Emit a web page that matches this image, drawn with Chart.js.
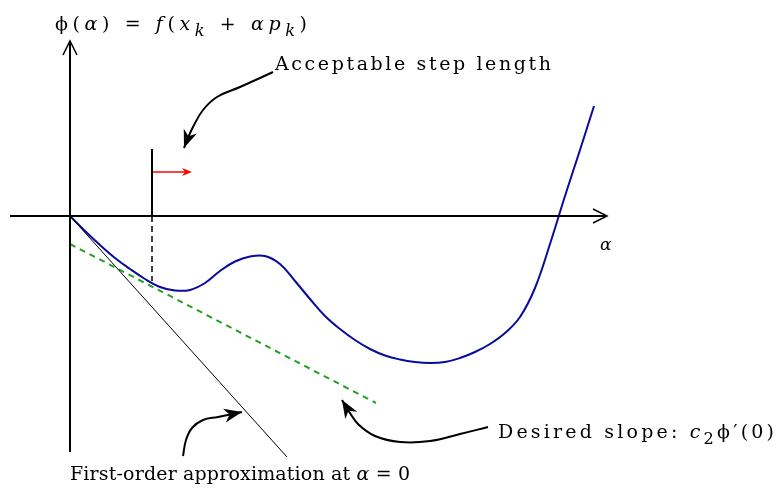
<!DOCTYPE html>
<html>
<head>
<meta charset="utf-8">
<script src="https://cdn.jsdelivr.net/npm/chart.js@4.4.0/dist/chart.umd.min.js"></script>
<style>
  body { margin: 0; background: #fff; }
  #wrap { width: 778px; height: 492px; }
</style>
</head>
<body>
<div id="wrap"><canvas id="myChart1"></canvas></div>
<script>
// phi(alpha) curve
var alpha = [0, 0.3, 0.6, 0.9, 1.2, 1.5, 1.8, 2.1, 2.4, 2.7, 3.0, 3.3, 3.6, 3.9, 4.2, 4.5, 4.8, 5.1, 5.4, 5.7, 6.0, 6.3, 6.6, 6.9, 7.2, 7.5, 7.8, 8.1, 8.4, 8.7, 9.0, 9.3, 9.6, 9.9, 10.2, 10.48];
var phi   = [0, -0.3, -0.58, -0.84, -1.06, -1.26, -1.42, -1.49, -1.48, -1.34, -1.1, -0.91, -0.81, -0.8, -0.96, -1.3, -1.66, -2.0, -2.26, -2.48, -2.66, -2.79, -2.87, -2.92, -2.94, -2.92, -2.84, -2.72, -2.56, -2.34, -2.02, -1.44, -0.56, 0.4, 1.32, 2.2];

// first-order approximation (slope phi'(0)) and desired slope c2*phi'(0)
var tangentX = [0, 4.34];
var tangentY = [0, -4.82];
var slopeX = [0, 6.12];
var slopeY = [-0.56, -3.74];

// acceptable step
var stepAlpha = 1.64;
var stepTop = 1.34;
var stepBottom = -1.3;
var redArrowY = 0.88;
var redArrowEnd = 2.44;

// axes
var xAxisRange = [-1.2, 10.74];
var yAxisRange = [-4.72, 3.5];

// annotation pointer curves
var acceptX = [4.06, 3.8, 3.4, 2.94, 2.66, 2.46, 2.34, 2.28];
var acceptY = [2.88, 2.76, 2.58, 2.38, 2.12, 1.78, 1.52, 1.36];
var desiredX = [8.36, 7.8, 7.2, 6.6, 6.1, 5.76, 5.56, 5.44];
var desiredY = [-4.22, -4.36, -4.5, -4.52, -4.4, -4.16, -3.88, -3.68];
var firstX = [2.26, 2.32, 2.44, 2.66, 2.96, 3.44];
var firstY = [-4.8, -4.48, -4.24, -4.08, -4.02, -3.92];

function pts(xs, ys) {
    var out = [];
    for (var i = 0; i < xs.length; i++) out.push({ x: xs[i], y: ys[i] });
    return out;
}

function line(data, color, width, extra) {
    var ds = {
        data: data,
        showLine: true,
        borderColor: color,
        backgroundColor: color,
        borderWidth: width,
        pointRadius: 0,
        fill: false,
        tension: 0
    };
    for (var k in extra) ds[k] = extra[k];
    return ds;
}

var SERIF = '"DejaVu Serif", "Liberation Serif", serif';

// draw text made of segments, stretched to a width
function richText(ctx, segs, x, y, size, targetW) {
    var n = 0, w = 0;
    segs.forEach(function (s) {
        var fs = s.sub ? size * 0.85 : size;
        ctx.font = (s.it ? 'italic ' : '') + fs + 'px ' + SERIF;
        s.w = ctx.measureText(s.t).width;
        w += s.w;
        n += s.t.length;
    });
    var sp = targetW ? (targetW - w) / (n - 1) : 0;
    var cx = x;
    segs.forEach(function (s) {
        var fs = s.sub ? size * 0.85 : size;
        ctx.font = (s.it ? 'italic ' : '') + fs + 'px ' + SERIF;
        for (var i = 0; i < s.t.length; i++) {
            var ch = s.t[i];
            ctx.fillText(ch, cx, y + (s.sub ? size * 0.3 : 0));
            cx += ctx.measureText(ch).width + sp;
        }
    });
}

function filledHead(ctx, x0, y0, x1, y1, len, half) {
    var a = Math.atan2(y1 - y0, x1 - x0);
    ctx.beginPath();
    ctx.moveTo(x1, y1);
    ctx.lineTo(x1 - len * Math.cos(a) + half * Math.sin(a), y1 - len * Math.sin(a) - half * Math.cos(a));
    ctx.lineTo(x1 - len * 0.7 * Math.cos(a), y1 - len * 0.7 * Math.sin(a));
    ctx.lineTo(x1 - len * Math.cos(a) - half * Math.sin(a), y1 - len * Math.sin(a) + half * Math.cos(a));
    ctx.closePath();
    ctx.fill();
}

function openHead(ctx, x, y, dx, dy) {
    // open TeX-like arrow tip pointing along (dx, dy)
    var px = -dy, py = dx;
    ctx.beginPath();
    ctx.moveTo(x - 14 * dx + 7 * px, y - 14 * dy + 7 * py);
    ctx.quadraticCurveTo(x - 4 * dx + 2 * px, y - 4 * dy + 2 * py, x, y);
    ctx.quadraticCurveTo(x - 4 * dx - 2 * px, y - 4 * dy - 2 * py, x - 14 * dx - 7 * px, y - 14 * dy - 7 * py);
    ctx.stroke();
}

var decor = {
    id: 'decor',
    afterDatasetsDraw: function (chart) {
        var ctx = chart.ctx, sx = chart.scales.x, sy = chart.scales.y;
        function P(x, y) { return [sx.getPixelForValue(x), sy.getPixelForValue(y)]; }
        ctx.save();
        ctx.fillStyle = '#000';
        ctx.strokeStyle = '#000';
        ctx.lineWidth = 1.5;

        // axis arrow tips
        var xt = P(xAxisRange[1], 0);
        openHead(ctx, xt[0], xt[1], 1, 0);
        var yt = P(0, yAxisRange[1]);
        openHead(ctx, yt[0], yt[1], 0, -1);

        // red arrow tip
        var r0 = P(stepAlpha, redArrowY), r1 = P(redArrowEnd, redArrowY);
        ctx.fillStyle = '#ff0000';
        filledHead(ctx, r0[0], r0[1], r1[0], r1[1], 10, 4);

        // pointer tips
        ctx.fillStyle = '#000';
        [[acceptX, acceptY], [desiredX, desiredY], [firstX, firstY]].forEach(function (c) {
            var n = c[0].length;
            var a = P(c[0][n - 2], c[1][n - 2]), b = P(c[0][n - 1], c[1][n - 1]);
            filledHead(ctx, a[0], a[1], b[0], b[1], 18, 7);
        });

        // labels
        ctx.textBaseline = 'alphabetic';
        var p = P(-0.3, 3.72);
        richText(ctx, [
            { t: 'ϕ(' }, { t: 'α', it: 1 }, { t: ') = ' }, { t: 'f', it: 1 }, { t: '(' },
            { t: 'x', it: 1 }, { t: 'k', it: 1, sub: 1 }, { t: ' + ' }, { t: 'αp', it: 1 },
            { t: 'k', it: 1, sub: 1 }, { t: ')' }
        ], p[0], p[1], 19, 252);
        p = P(4.1, 2.92);
        richText(ctx, [{ t: 'Acceptable step length' }], p[0], p[1], 19, 276);
        p = P(10.6, -0.68);
        richText(ctx, [{ t: 'α', it: 1 }], p[0], p[1], 17, 0);
        p = P(8.56, -4.44);
        richText(ctx, [
            { t: 'Desired slope: ' }, { t: 'c', it: 1 }, { t: '2', sub: 1 }, { t: 'ϕ' }, { t: '′(0)' }
        ], p[0], p[1], 19, 276);
        p = P(0, -5.28);
        richText(ctx, [
            { t: 'First-order approximation at ' }, { t: 'α', it: 1 }, { t: ' = 0' }
        ], p[0], p[1], 19, 340);
        ctx.restore();
    }
};

const configMyChart1 = {
    type: 'scatter',
    data: {
        datasets: [
            line(pts(xAxisRange, [0, 0]), '#000', 2),
            line(pts([0, 0], yAxisRange), '#000', 2),
            line(pts(tangentX, tangentY), '#000', 1),
            line(pts(slopeX, slopeY), '#22a022', 2, { borderDash: [6, 5] }),
            line(pts([stepAlpha, stepAlpha], [0, stepTop]), '#000', 2),
            line(pts([stepAlpha, stepAlpha], [0, stepBottom]), '#000', 1.5, { borderDash: [6, 4] }),
            line(pts([stepAlpha, redArrowEnd - 0.1], [redArrowY, redArrowY]), '#ff0000', 1.5),
            line(pts(alpha, phi), '#0a0a9e', 2, { tension: 0.4 }),
            line(pts(acceptX, acceptY), '#000', 2, { tension: 0.4 }),
            line(pts(desiredX, desiredY), '#000', 2, { tension: 0.4 }),
            line(pts(firstX, firstY), '#000', 2, { tension: 0.4 })
        ]
    },
    options: {
        responsive: true,
        maintainAspectRatio: false,
        animation: false,
        layout: { padding: 0 },
        plugins: { legend: { display: false }, tooltip: { enabled: false } },
        scales: {
            x: { type: 'linear', display: false, min: -1.4, max: 14.16 },
            y: { type: 'linear', display: false, min: -5.52, max: 4.32 }
        }
    },
    plugins: [decor]
};

var myChart1 = new Chart(document.getElementById('myChart1'), configMyChart1);
</script>
</body>
</html>
